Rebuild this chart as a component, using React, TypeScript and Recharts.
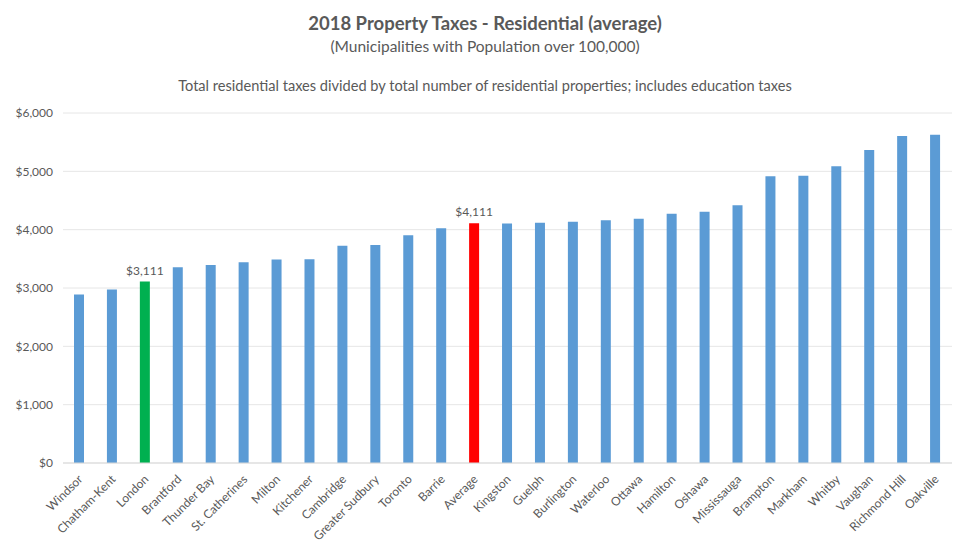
import React from 'react';
import { BarChart, Bar, XAxis, YAxis, CartesianGrid, Cell, LabelList } from 'recharts';

const municipalities = [
  'Windsor', 'Chatham-Kent', 'London', 'Brantford', 'Thunder Bay', 'St. Catherines',
  'Milton', 'Kitchener', 'Cambridge', 'Greater Sudbury', 'Toronto', 'Barrie', 'Average',
  'Kingston', 'Guelph', 'Burlington', 'Waterloo', 'Ottawa', 'Hamilton', 'Oshawa',
  'Mississauga', 'Brampton', 'Markham', 'Whitby', 'Vaughan', 'Richmond Hill', 'Oakville',
];

const avgTaxes = [
  2890, 2975, 3111, 3355, 3395, 3440,
  3490, 3495, 3726, 3737, 3903, 4023, 4111,
  4105, 4120, 4137, 4160, 4188, 4274, 4308,
  4417, 4914, 4926, 5086, 5366, 5606, 5629,
];

const highlighted = ['London', 'Average'];
const yTicks = [0, 1000, 2000, 3000, 4000, 5000, 6000];

const BLUE = '#5B9BD5';
const GREEN = '#00B050';
const RED = '#FF0000';
const TEXT = '#595959';
const FONT = 'Lato, "Open Sans", sans-serif';

const fmt = (v: number) => '$' + v.toLocaleString('en-US');

const data = municipalities.map((name, i) => ({
  name,
  value: avgTaxes[i],
  label: highlighted.includes(name) ? fmt(avgTaxes[i]) : '',
}));

const barColor = (name: string) => {
  if (name === 'London') return GREEN;
  if (name === 'Average') return RED;
  return BLUE;
};

const AngledTick = (props: any) => {
  const { x, y, payload } = props;
  return (
    <g transform={`translate(${x + 4},${y + 9})`}>
      <text
        x={0}
        y={0}
        textAnchor="end"
        transform="rotate(-45)"
        fill={TEXT}
        fontSize={12}
        fontFamily={FONT}
      >
        {payload.value}
      </text>
    </g>
  );
};

export default function App() {
  return (
    <div
      style={{
        position: 'relative',
        width: 970,
        height: 549,
        margin: -8,
        background: '#fff',
        fontFamily: FONT,
        overflow: 'hidden',
      }}
    >
      {/* chart frame */}
      <div
        style={{
          position: 'absolute',
          left: 7,
          top: -1,
          width: 959,
          height: 560,
          border: '1px solid #d9d9d9',
        }}
      />
      <div style={{ position: 'absolute', top: 11, width: 970, textAlign: 'center', color: TEXT }}>
        <div style={{ fontSize: 18.5, fontWeight: 700, lineHeight: '24px' }}>
          2018 Property Taxes - Residential (average)
        </div>
        <div style={{ fontSize: 15.5, lineHeight: '22px' }}>
          (Municipalities with Population over 100,000)
        </div>
      </div>
      <div
        style={{
          position: 'absolute',
          top: 77,
          width: 970,
          textAlign: 'center',
          color: TEXT,
          fontSize: 14.6,
        }}
      >
        Total residential taxes divided by total number of residential properties; includes education taxes
      </div>
      <div style={{ position: 'absolute', left: 0, top: 0 }}>
        <BarChart
          width={970}
          height={549}
          data={data}
          margin={{ top: 113, right: 18, left: 0, bottom: 0 }}
        >
          <CartesianGrid vertical={false} stroke="#e6e6e6" />
          <XAxis
            dataKey="name"
            interval={0}
            height={86}
            tickLine={false}
            axisLine={{ stroke: '#d9d9d9' }}
            tick={<AngledTick />}
          />
          <YAxis
            width={63}
            domain={[0, 6000]}
            ticks={yTicks}
            tickFormatter={fmt}
            tickLine={false}
            axisLine={false}
            tickMargin={4}
            tick={{ fill: TEXT, fontSize: 12, fontFamily: FONT }}
          />
          <Bar dataKey="value" barSize={10} isAnimationActive={false}>
            {data.map((d) => (
              <Cell key={d.name} fill={barColor(d.name)} />
            ))}
            <LabelList
              dataKey="label"
              position="top"
              offset={7}
              fill={TEXT}
              fontSize={12}
              fontFamily={FONT}
            />
          </Bar>
        </BarChart>
      </div>
    </div>
  );
}
